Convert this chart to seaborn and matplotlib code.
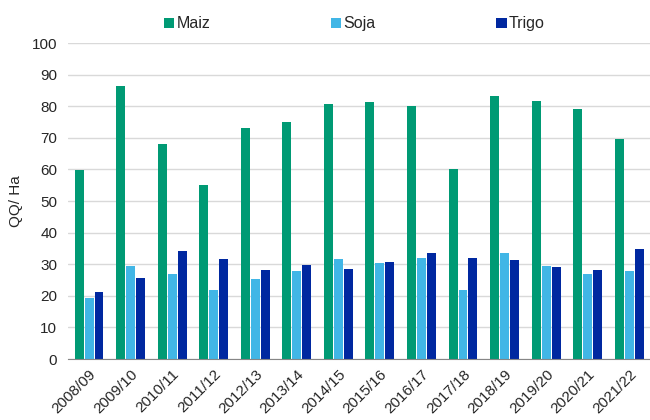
import matplotlib
matplotlib.use("Agg")
import matplotlib.pyplot as plt
import seaborn as sns
import pandas as pd
import numpy as np

campaigns = ["2008/09", "2009/10", "2010/11", "2011/12", "2012/13", "2013/14", "2014/15",
             "2015/16", "2016/17", "2017/18", "2018/19", "2019/20", "2020/21", "2021/22"]
maiz = [59.7, 86.3, 68.0, 55.2, 73.1, 75.1, 80.7, 81.3, 80.1, 60.0, 83.1, 81.6, 79.1, 69.7]
soja = [19.2, 29.5, 26.9, 21.9, 25.2, 27.9, 31.7, 30.4, 31.9, 21.8, 33.5, 29.6, 26.8, 27.9]
trigo = [21.1, 25.7, 34.2, 31.6, 28.2, 29.7, 28.5, 30.7, 33.6, 31.9, 31.3, 29.1, 28.2, 34.7]
cultivos = ["Maiz", "Soja", "Trigo"]
colores = ["#009A74", "#41B6E6", "#0028A0"]

df = pd.DataFrame({"campaña": campaigns * 3,
                   "cultivo": np.repeat(cultivos, len(campaigns)),
                   "rinde": maiz + soja + trigo})

sns.set_style("white")
plt.rcParams["font.family"] = ["Liberation Sans", "DejaVu Sans"]

fig = plt.figure(figsize=(6.5, 4.2), dpi=100)
ax = fig.add_axes([0.105, 0.145, 0.895, 0.7525])

sns.barplot(data=df, x="campaña", y="rinde", hue="cultivo", palette=colores,
            width=0.72, gap=0.1, ax=ax, legend=True, saturation=1,
            edgecolor="none")

ax.set_ylim(0, 100)
ax.set_xlim(-0.5, len(campaigns) - 0.5)
ax.set_yticks(range(0, 101, 10))
ax.yaxis.grid(True, color="#d9d9d9", linewidth=1)
ax.set_axisbelow(True)
for s in ["top", "right", "left"]:
    ax.spines[s].set_visible(False)
ax.spines["bottom"].set_color("#868686")

ax.set_xticks(range(len(campaigns)))
ax.set_xticklabels(campaigns, rotation=45, ha="right", rotation_mode="anchor", fontsize=11)
ax.set_xticks(np.arange(-0.5, len(campaigns), 1), minor=True)
ax.tick_params(axis="x", which="major", length=0, pad=6)
ax.tick_params(axis="x", which="minor", length=5, color="#868686", width=1)
ax.tick_params(axis="y", length=0, labelsize=11, pad=8)
ax.set_xlabel("")
ax.set_ylabel("QQ/ Ha", fontsize=11, labelpad=6)

ax.get_legend().remove()
handles, labels = ax.get_legend_handles_labels()
fig.legend(handles, labels, loc="upper center", bbox_to_anchor=(0.545, 0.995), ncol=3,
           frameon=False, fontsize=11.5, handlelength=0.65, handleheight=0.65,
           handletextpad=0.15, columnspacing=7.55)

fig.savefig("out.png", dpi=100)
